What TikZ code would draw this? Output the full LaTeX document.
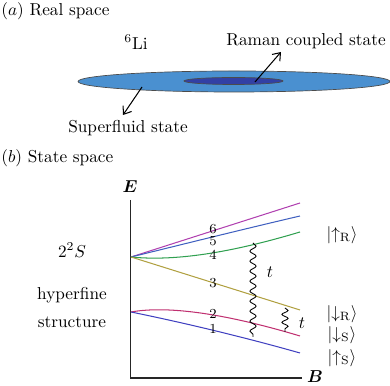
\documentclass[tikz,border=0pt]{standalone}
\usepackage{amsmath,bm}
\usetikzlibrary{decorations.pathmorphing,arrows.meta}
\definecolor{bigblue}{RGB}{74,144,208}
\definecolor{innerblue}{RGB}{50,64,165}
\definecolor{lmag}{RGB}{176,64,176}
\definecolor{lblue}{RGB}{64,96,192}
\definecolor{lgreen}{RGB}{48,160,80}
\definecolor{lolive}{RGB}{176,160,64}
\definecolor{lcrim}{RGB}{192,48,112}
\definecolor{lblue1}{RGB}{64,64,192}
\tikzset{
  txt/.style={inner sep=0pt},
  lvl/.style={line width=0.6pt},
  num/.style={inner sep=0pt,font=\footnotesize},
  ptr/.style={-{Straight Barb[length=4pt,width=6pt]},line width=0.6pt},
  axis/.style={line width=1.1pt,draw=black!85},
  wave/.style={decorate,decoration={snake,segment length=5.8pt,amplitude=1.8pt},line width=0.5pt},
  swave/.style={decorate,decoration={snake,segment length=4.6pt,amplitude=1.8pt},line width=0.5pt}
}
\begin{document}
\begin{tikzpicture}[x=0.58pt,y=-0.58pt]
\useasboundingbox (0,0) rectangle (390,386);
% (a)
\node[txt,anchor=west] (ta) at (1,11) {$(a)$ Real space};
\node[txt] (li) at (136,42) {$^6$Li};
\fill[bigblue,draw=black!70,line width=0.4pt] (234,81.5) ellipse [x radius=156, y radius=10.5];
\fill[innerblue,draw=black!70,line width=0.4pt] (233.5,81) ellipse [x radius=49.5, y radius=3.5];
\coordinate (rs) at (255,82);
\coordinate (sf) at (142,87);
\node[txt] (raman) at (306,41) {Raman coupled state};
\node[txt] (super) at (128,128) {Superfluid state};
\coordinate (rend) at (281,52);
\coordinate (send) at (123,115);
\draw[ptr] (rs) -- (rend);
\draw[ptr] (sf) -- (send);
% (b)
\node[txt,anchor=west] (tb) at (1,158) {$(b)$ State space};
\coordinate (o) at (130.5,378);
\coordinate (ytop) at (130.5,200);
\coordinate (xend) at (302,378);
\draw[axis] (ytop) -- (o) -- (xend);
\node[txt] (E) at (130,187) {$\bm{E}$};
\node[txt] (B) at (315,377) {$\bm{B}$};
\coordinate (up) at (131,257);
\coordinate (lo) at (131,312);
\draw[lvl,lmag] (up) -- (300,203);
\draw[lvl,lblue] (up) .. controls (180,245) and (240,230) .. (300,216);
\draw[lvl,lgreen] (up) .. controls (180,262) and (240,250) .. (300,232);
\draw[lvl,lolive] (up) -- (300,310);
\draw[lvl,lcrim] (lo) .. controls (170,305) and (230,315) .. (300,336);
\draw[lvl,lblue1] (lo) .. controls (180,322) and (240,336) .. (300,353);
\node[num] (n6) at (213,229) {6};
\node[num] (n5) at (213,241) {5};
\node[num] (n4) at (213,255) {4};
\node[num] (n3) at (213,283) {3};
\node[num] (n2) at (213,314) {2};
\node[num] (n1) at (213,329) {1};
\coordinate (w1a) at (253,243);
\coordinate (w1b) at (253,337);
\coordinate (w2a) at (285,308);
\coordinate (w2b) at (285,332);
\draw[wave] (w1a) -- (w1b);
\draw[swave] (w2a) -- (w2b);
\node[txt] (t1) at (270,272) {$t$};
\node[txt] (t2) at (302,323) {$t$};
\node[txt] (k1) at (342,235) {$|{\uparrow_{\mathrm{R}}}\rangle$};
\node[txt] (k2) at (342,314) {$|{\downarrow_{\mathrm{R}}}\rangle$};
\node[txt] (k3) at (342,335) {$|{\downarrow_{\mathrm{S}}}\rangle$};
\node[txt] (k4) at (342,358) {$|{\uparrow_{\mathrm{S}}}\rangle$};
\node[txt] (ss) at (72,250) {$2^2S$};
\node[txt] (hf) at (72,295) {hyperfine};
\node[txt] (st) at (72,322) {structure};
\end{tikzpicture}
\end{document}
